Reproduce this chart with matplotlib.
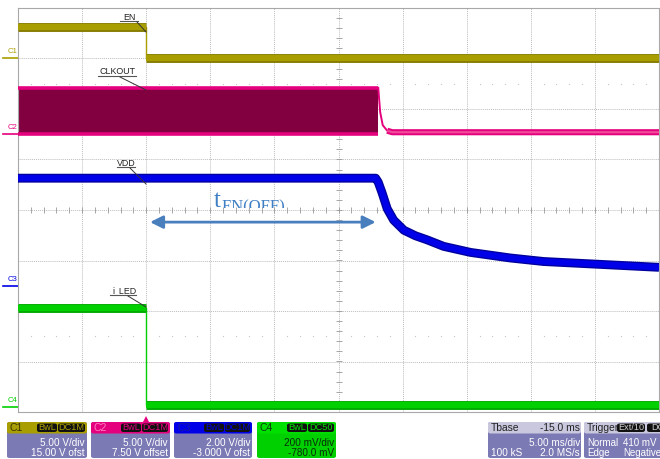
import matplotlib
matplotlib.use("Agg")
import matplotlib.pyplot as plt
from matplotlib.patches import FancyBboxPatch
from matplotlib.transforms import Bbox, TransformedBbox
import numpy as np

plt.rcParams['font.family'] = ['Liberation Sans', 'DejaVu Sans']

W, H = 660, 459

# scope setup: V/div and ground marker position (div)
ch_names = ['C1', 'C2', 'C3', 'C4']
ch_colors = ['#a99e00', '#e5007d', '#0000e8', '#00d000']
ch_dark = ['#857b00', '#a0004f', '#00009c', '#00a800']
ch_scale = [5.0, 5.0, 2.0, 0.2]
ch_ground = [3.0, 1.5, -1.5, -3.9]

# time in ms (trigger at 0, 5 ms/div)
t_min, t_max = -10, 40

# EN (C1), volts
en_t = [-10, 0, 0, 40]
en_v = [3.1, 3.1, 0.0, 0.0]

# CLKOUT (C2): switching band, then falls low
clk_on_t = [-10, 18.1]
clk_top = 4.6
clk_bot = 0.0
clk_off_t = [18.1, 18.25, 18.45, 18.8, 19.2, 40]
clk_off_v = [4.6, 2.2, 0.9, 0.35, 0.2, 0.2]

# VDD (C3), volts
vdd_t = [-10, 17.9, 18.1, 18.4, 18.8, 19.3, 20.1, 21.0, 21.9, 23.2, 25.3, 28.4, 31.0, 34.9, 39.6, 40]
vdd_v = [4.26, 4.26, 4.1, 3.68, 3.05, 2.6, 2.2, 1.98, 1.82, 1.56, 1.32, 1.10, 0.96, 0.86, 0.74, 0.73]

# i_LED (C4), current probe in volts
led_t = [-10, 0, 0, 40]
led_v = [0.39, 0.39, 0.008, 0.008]

trace_labels = ['EN', 'CLKOUT', 'VDD', 'i_LED']

fig = plt.figure(figsize=(W / 100, H / 100), dpi=100)
ax = fig.add_axes([18 / W, 1 - 412 / H, 641 / W, 404 / H])
ax.set_xlim(t_min, t_max)
ax.set_ylim(-4, 4)
ax.set_xticks([])
ax.set_yticks([])
for s in ax.spines.values():
    s.set_color('#a8a8a8')
    s.set_linewidth(0.8)

# graticule
gcol = '#bdbdbd'
for k in range(1, 10):
    ax.axvline(t_min + 5 * k, color=gcol, lw=0.7, ls=(0, (1, 1)), zorder=0)
for k in range(-3, 4):
    ax.axhline(k, color=gcol, lw=0.7, ls=(0, (1, 1)), zorder=0)
minor_t = np.arange(t_min, t_max + 0.01, 1.0)
ax.plot(minor_t, np.zeros_like(minor_t), '|', color='#999999', ms=4, mew=0.6, zorder=0)
minor_y = np.arange(-4, 4.01, 0.2)
ax.plot(np.full_like(minor_y, 15.0), minor_y, '_', color='#999999', ms=4, mew=0.6, zorder=0)
dots = [x for x in minor_t if x % 5 != 0]
for yy in (2.5, -2.5):
    ax.plot(dots, [yy] * len(dots), 'o', color='#c4c4c4', ms=0.9, mew=0, zorder=0)


def to_div(v, k):
    return np.asarray(v, float) / ch_scale[k] + ch_ground[k]


def draw_trace(t, v, k, lw=6.4):
    t = np.asarray(t, float)
    y = to_div(v, k)
    ax.plot(t, y, color=ch_colors[k], lw=1.0, zorder=3)
    start = 0
    for i in range(1, len(t) + 1):
        if i == len(t) or t[i] == t[i - 1]:
            ax.plot(t[start:i], y[start:i], color=ch_dark[k], lw=lw,
                    solid_capstyle='butt', solid_joinstyle='round', zorder=3)
            ax.plot(t[start:i], y[start:i], color=ch_colors[k], lw=lw * 0.7,
                    solid_capstyle='butt', solid_joinstyle='round', zorder=3)
            start = i


# EN
draw_trace(en_t, en_v, 0)
# CLKOUT band
ax.fill_between(clk_on_t, to_div([clk_bot] * 2, 1), to_div([clk_top] * 2, 1),
                color='#82003f', lw=0, zorder=2)
for lev in (clk_top, clk_bot):
    ax.plot(clk_on_t, to_div([lev] * 2, 1), color=ch_colors[1], lw=2.6,
            solid_capstyle='butt', zorder=3)
ax.plot(clk_off_t, to_div(clk_off_v, 1), color=ch_colors[1], lw=1.4, zorder=3)
ax.plot(clk_off_t[3:], to_div(clk_off_v[3:], 1), color=ch_colors[1], lw=4.4,
        solid_capstyle='butt', zorder=3)
ax.plot(clk_off_t[3:], to_div(clk_off_v[3:], 1), color='#f04a9a', lw=1.6,
        solid_capstyle='butt', zorder=3)
# VDD
draw_trace(vdd_t, vdd_v, 2, lw=6.4)
# i_LED
draw_trace(led_t, led_v, 3)


# trace name labels with leader lines (positions in pixels)
def p2d(px, py):
    return (t_min + (px - 18) * 50 / 641, 4 - (py - 8) * 8 / 404)


label_layout = [((129, 17), (120, 138, 21), (137, 22), (146, 32)),
                ((117, 72), (98, 136, 76), (120, 77), (146, 90)),
                ((126, 163), (117, 135, 167), (130, 168), (146, 184)),
                ((124, 291), (110, 136, 295), (128, 296), (146, 307))]
for name, (tp, ul, l0, l1) in zip(trace_labels, label_layout):
    ax.text(*p2d(*tp), name, fontsize=6.4, ha='center', va='center', color='#222222', zorder=5)
    a, b = p2d(ul[0], ul[2]), p2d(ul[1], ul[2])
    ax.plot([a[0], b[0]], [a[1], b[1]], color='#555555', lw=0.8, zorder=5)
    a, b = p2d(*l0), p2d(*l1)
    ax.plot([a[0], b[0]], [a[1], b[1]], color='#333333', lw=0.7, zorder=5)

# channel ground markers
for k, name in enumerate(ch_names):
    y = ch_ground[k]
    ax.plot([-11.2, -10.0], [y, y], color=ch_colors[k], lw=1.2, clip_on=False)
    ax.text(-10.05, y + 0.06, name, fontsize=5.6, color=ch_colors[k], ha='right',
            va='bottom', clip_on=False)

# trigger marker
ax.plot([0], [-4.14], marker='^', color='#e5007d', ms=5, mew=0, clip_on=False)

# t_EN(OFF) annotation
acol = '#3f7fc4'
ax.annotate('', xy=(0.3, -0.24), xytext=(17.9, -0.24),
            arrowprops=dict(arrowstyle='<|-|>', color='#4a7fbe', lw=2.0,
                            mutation_scale=19, shrinkA=0, shrinkB=0), zorder=6)
clip_box = TransformedBbox(Bbox([[t_min, 0.03], [t_max, 4]]), ax.transData)
t1 = ax.text(*p2d(214, 207), 't', fontsize=18, family='Liberation Serif', color=acol,
             ha='left', va='baseline', zorder=6, clip_on=True)
t2 = ax.text(*p2d(221.5, 211), 'EN(OFF)', fontsize=12, family='Liberation Serif',
             color=acol, ha='left', va='baseline', zorder=6, clip_on=True)
for tt in (t1, t2):
    tt.set_clip_path(None)
    tt.set_clip_box(clip_box)

# bottom info panels
body = '#7c7ab5'


def box(x0, x1, y0, y1, fc):
    fig.add_artist(FancyBboxPatch((x0 / W, 1 - y1 / H), (x1 - x0) / W, (y1 - y0) / H,
                                  boxstyle='round,pad=0,rounding_size=0.004',
                                  transform=fig.transFigure, fc=fc, ec='none'))


def ftext(px, py, s, color='white', ha='left', size=7.2):
    fig.text(px / W, 1 - py / H, s, color=color, ha=ha, va='center', fontsize=size)


def chip(x0, x1, s, color):
    box(x0, x1, 423.5, 432, '#111111')
    ftext((x0 + x1) / 2, 428, s, color=color, ha='center', size=6.6)


panel_x = [(7, 87), (91, 170), (174, 252), (257, 336)]
panel_line1 = ['5.00 V/div', '5.00 V/div', '2.00 V/div', '200 mV/div']
panel_line2 = ['15.00 V ofst', '7.50 V offset', '-3.000 V ofst', '-780.0 mV']
panel_chips = [('BwL', 'DC1M'), ('BwL', 'DC1M'), ('BwL', 'DC1M'), ('BwL', 'DC50')]
head_txt = ['#3a3600', '#ff7fc0', '#1a1aa0', '#0c3c0c']
for k, (x0, x1) in enumerate(panel_x):
    box(x0, x1, 422, 458, ch_colors[k] if k == 3 else body)
    box(x0, x1, 422, 433.5, ch_colors[k] if k < 3 else '#00e000')
    ftext(x0 + 3, 428, ch_names[k], color=head_txt[k], size=7.6)
    chip(x0 + 30, x0 + 50, panel_chips[k][0], ch_colors[k] if k < 3 else '#00e000')
    chip(x0 + 51, x1 - 2, panel_chips[k][1], ch_colors[k] if k < 3 else '#00e000')
    tc = '#0a2a0a' if k == 3 else 'white'
    ftext(x1 - 2, 442.5, panel_line1[k], color=tc, ha='right')
    ftext(x1 - 2, 453, panel_line2[k], color=tc, ha='right')

# timebase
box(488, 581, 422, 458, body)
box(488, 581, 422, 433.5, '#c9c8de')
ftext(491, 428, 'Tbase', color='#222222', size=7.4)
ftext(580, 428, '-15.0 ms', color='#222222', ha='right', size=7.4)
ftext(580, 442.5, '5.00 ms/div', ha='right')
ftext(491, 453, '100 kS')
ftext(580, 453, '2.0 MS/s', ha='right')

# trigger (panel runs past the right edge, as on the scope capture)
box(584, 668, 422, 458, body)
box(584, 668, 422, 433.5, '#c9c8de')
ftext(587, 428, 'Trigger', color='#222222', size=7.4)
chip(617, 645, 'Ext/10', '#d0d0d0')
chip(647, 668, 'DC', '#d0d0d0')
ftext(587, 442.5, 'Normal', size=7.0)
ftext(623, 442.5, '410 mV', size=7.0)
ftext(587, 453, 'Edge', size=7.0)
ftext(623, 453, 'Negative', size=7.0)

fig.savefig('out.png', dpi=100, facecolor='white')
